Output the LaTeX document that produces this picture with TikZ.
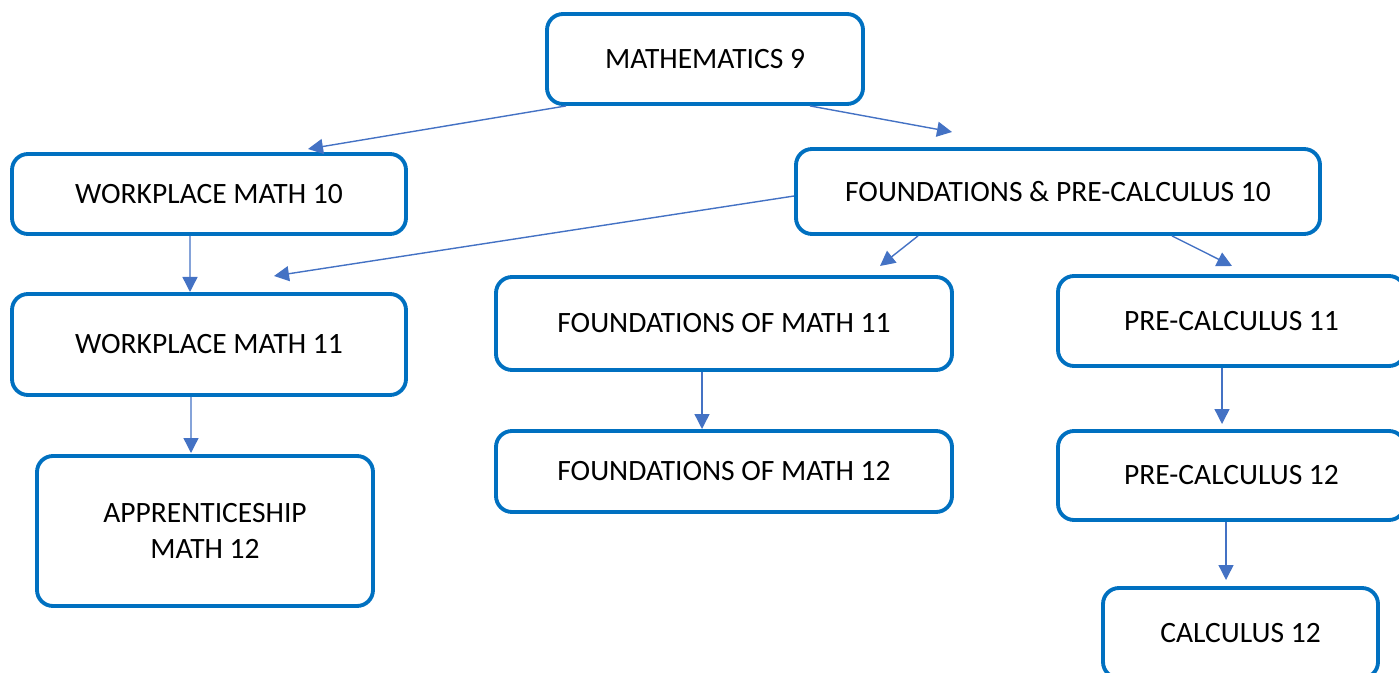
\documentclass[tikz,border=0pt]{standalone}
\usepackage{fontspec}
\setmainfont{Carlito}
\usetikzlibrary{arrows.meta}
\definecolor{boxblue}{HTML}{0070C0}
\definecolor{arrowblue}{HTML}{4472C4}
\begin{document}
\begin{tikzpicture}[
		course/.style = {draw = boxblue, line width = 2.2pt, rounded corners = 0.32cm, align = center, font = \fontsize{16.8}{20.6}\selectfont, inner sep = 0pt},
		link/.style = {arrowblue, line width = 0.8pt, -{Triangle[length = 0.3cm, width = 0.3cm]}}]
		\useasboundingbox (0,0) rectangle (27.98,-13.46);
		\clip (0,0) rectangle (27.98,-13.46);
		
		%grade 9 and 10
		\node [course, minimum width = 6.32cm, minimum height = 1.80cm] (m9) at (14.10,-1.18) {MATHEMATICS 9};
		\node [course, minimum width = 7.88cm, minimum height = 1.60cm] (wm10) at (4.18,-3.88) {WORKPLACE MATH 10};
		\node [course, minimum width = 10.48cm, minimum height = 1.70cm] (fp10) at (21.16,-3.83) {FOUNDATIONS \& PRE-CALCULUS 10};
		
		%grade 11
		\node [course, minimum width = 7.88cm, minimum height = 2.02cm] (wm11) at (4.18,-6.89) {WORKPLACE MATH 11};
		\node [course, minimum width = 9.12cm, minimum height = 1.86cm] (fm11) at (14.48,-6.47) {FOUNDATIONS OF MATH 11};
		\node [course, minimum width = 6.94cm, minimum height = 1.80cm] (pc11) at (24.63,-6.42) {PRE-CALCULUS 11};
		
		%grade 12
		\node [course, minimum width = 6.72cm, minimum height = 3.00cm] (am12) at (4.10,-10.62) {APPRENTICESHIP\\MATH 12};
		\node [course, minimum width = 9.12cm, minimum height = 1.62cm] (fm12) at (14.48,-9.43) {FOUNDATIONS OF MATH 12};
		\node [course, minimum width = 6.94cm, minimum height = 1.78cm] (pc12) at (24.63,-9.51) {PRE-CALCULUS 12};
		\node [course, minimum width = 5.50cm, minimum height = 1.80cm] (c12) at (24.81,-12.66) {CALCULUS 12};
		
		%arrow tips
		\coordinate (t1) at (6.16,-2.98);
		\coordinate (t2) at (19.04,-2.64);
		\coordinate (t3) at (3.80,-5.84);
		\coordinate (t4) at (5.48,-5.52);
		\coordinate (t5) at (17.60,-5.32);
		\coordinate (t6) at (24.64,-5.32);
		\coordinate (t7) at (3.82,-9.06);
		\coordinate (t8) at (14.04,-8.58);
		\coordinate (t9) at (24.44,-8.48);
		\coordinate (t10) at (24.52,-11.60);
		
		\draw [link] ([xshift = -2.78cm]m9.south) -- (t1);
		\draw [link] ([xshift = 2.10cm]m9.south) -- (t2);
		\draw [link] ([xshift = -0.38cm]wm10.south) -- (t3);
		\draw [link] ([yshift = -0.09cm]fp10.west) -- (t4);
		\draw [link] ([xshift = -2.80cm]fp10.south) -- (t5);
		\draw [link] ([xshift = 2.28cm]fp10.south) -- (t6);
		\draw [link] ([xshift = -0.36cm]wm11.south) -- (t7);
		\draw [link] ([xshift = -0.44cm]fm11.south) -- (t8);
		\draw [link] ([xshift = -0.19cm]pc11.south) -- (t9);
		\draw [link] ([xshift = -0.11cm]pc12.south) -- (t10);
	\end{tikzpicture}
\end{document}
